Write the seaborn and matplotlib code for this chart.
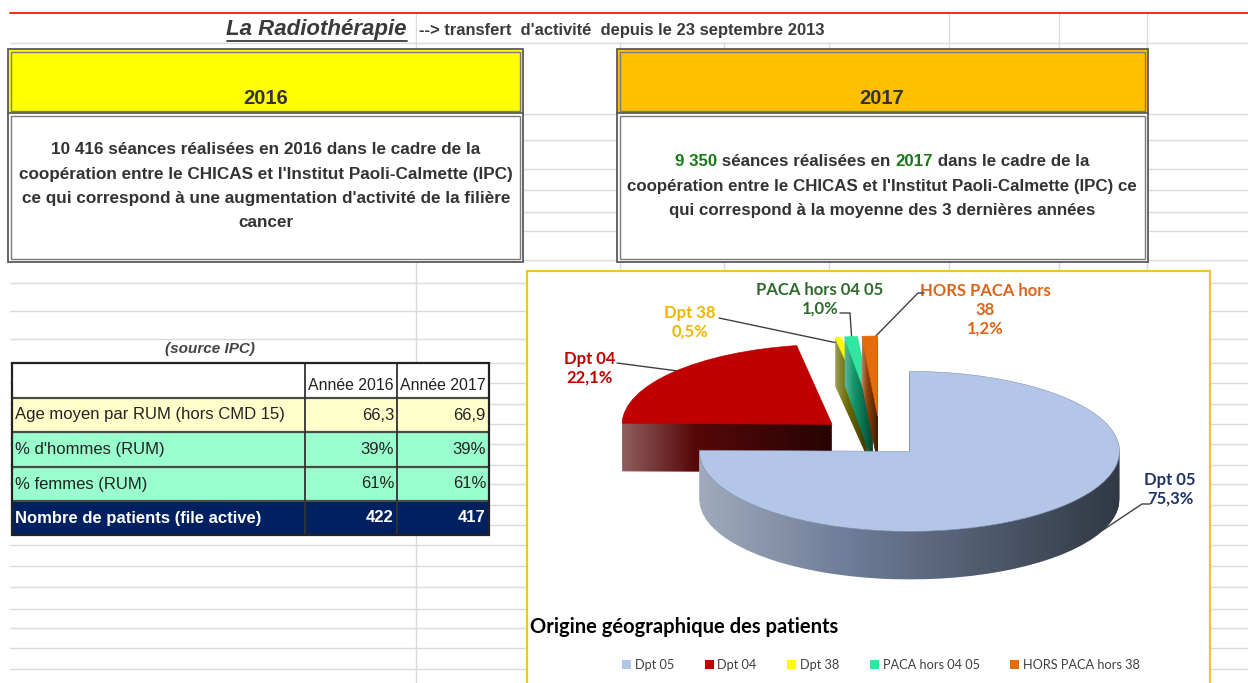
import matplotlib
matplotlib.use("Agg")
import numpy as np
import matplotlib.pyplot as plt
import seaborn as sns
from matplotlib import font_manager
from matplotlib.patches import Rectangle, Patch, PathPatch
from matplotlib.path import Path

# ---- data ----
categories = ["Dpt 05", "Dpt 04", "Dpt 38", "PACA hors 04 05", "HORS PACA hors 38"]
label_names = ["Dpt 05", "Dpt 04", "Dpt 38", "PACA hors 04 05", "HORS PACA hors\n38"]
shares = [75.3, 22.1, 0.5, 1.0, 1.2]

table_rows = ["Age moyen par RUM (hors CMD 15)", "% d'hommes (RUM)",
              "% femmes (RUM)", "Nombre de patients (file active)"]
table_cols = ["Année 2016", "Année 2017"]
values_2016 = ["66,3", "39%", "61%", "422"]
values_2017 = ["66,9", "39%", "61%", "417"]

text_2016 = ["10 416 séances réalisées en 2016 dans le cadre de la",
             "coopération entre le CHICAS et l'Institut Paoli-Calmette (IPC)",
             "ce qui correspond à une augmentation d'activité de la filière",
             "cancer"]
text_2017 = [[("9 350", "green"), (" séances réalisées en ", "grey"), ("2017", "green"),
              (" dans le cadre de la", "grey")],
             [("coopération entre le CHICAS et l'Institut Paoli-Calmette (IPC) ce", "grey")],
             [("qui correspond à la moyenne des 3 dernières années", "grey")]]

# ---- style ----
sns.set_theme(style="white")
fonts = {f.name for f in font_manager.fontManager.ttflist}
plt.rcParams["font.family"] = ["Liberation Sans", "DejaVu Sans"]
narrow = "Liberation Sans Narrow" if "Liberation Sans Narrow" in fonts else "Liberation Sans"
narrow_size = 14 if narrow == "Liberation Sans Narrow" else 12
chart_font = ["Lato", "DejaVu Sans"]

top_colors = ["#B4C6E7", "#C00000", "#FFFF00", "#2EE8A0", "#E46C0A"]
side_colors = ["#6E7D98", "#560808", "#6B6B00", "#12966A", "#8E3F06"]
label_colors = ["#1F3366", "#C00000", "#F2B600", "#2F6B2A", "#DC6418"]
txt_grey = "#333333"
green = "#1A7A1A"
grid = "#DADADA"

W, H = 1248, 683
fig = plt.figure(figsize=(W / 100, H / 100), dpi=100)
ax = fig.add_axes([0, 0, 1, 1])
ax.set_xlim(0, W)
ax.set_ylim(H, 0)
ax.axis("off")
renderer = fig.canvas.get_renderer()

# spreadsheet grid
for y in [43, 114, 140, 169, 190, 212, 231, 260, 283, 311, 339, 363, 383, 404, 424,
          444, 465, 484, 505, 525, 545, 566, 587, 609, 628, 648, 669]:
    ax.plot([10, W], [y, y], color=grid, lw=1, zorder=0)
for x in [416, 620, 724, 829, 949, 1059, 1147]:
    ax.plot([x, x], [14, H], color=grid, lw=1, zorder=0)
ax.plot([10, W], [13, 13], color="#FF0000", lw=1.2, zorder=1)
ax.add_patch(Rectangle((0, 14), 415, 28, facecolor="white", edgecolor="none", zorder=0.5))
ax.add_patch(Rectangle((417, 14), 531, 28, facecolor="white", edgecolor="none", zorder=0.5))

# title
title = ax.text(407, 30, "La Radiothérapie", ha="right", va="center", fontsize=16,
                fontweight="bold", fontstyle="italic", color="#3A3A3A", zorder=3)
bb = title.get_window_extent(renderer)
ax.plot([bb.x0, bb.x1], [41, 41], color="#3A3A3A", lw=1.3, zorder=3)
ax.text(419, 31, "--> transfert  d'activité  depuis le 23 septembre 2013", ha="left",
        va="center", fontsize=11.9, fontweight="bold", color="#3A3A3A", zorder=3)


def box(x0, y0, x1, y1, fc):
    ax.add_patch(Rectangle((x0, y0), x1 - x0, y1 - y0, facecolor=fc,
                           edgecolor="#5A5A5A", lw=1.3, zorder=2))
    ax.add_patch(Rectangle((x0 + 3, y0 + 3), x1 - x0 - 6, y1 - y0 - 6, facecolor="none",
                           edgecolor="#7A7A7A", lw=1.0, zorder=2))


box(8, 49, 523, 114, "#FFFF00")
box(8, 113, 523, 262, "white")
box(617, 49, 1148, 114, "#FFC000")
box(617, 113, 1148, 262, "white")
ax.text(266, 99, "2016", ha="center", va="center", fontsize=14.5, fontweight="bold",
        color=txt_grey, zorder=3)
ax.text(882, 99, "2017", ha="center", va="center", fontsize=14.5, fontweight="bold",
        color=txt_grey, zorder=3)

for i, line in enumerate(text_2016):
    ax.text(266, 150 + 24.3 * i, line, ha="center", va="center", fontsize=12.3,
            fontweight="bold", color=txt_grey, zorder=3)


def width(s, **kw):
    t = ax.text(0, 0, s + "|", **kw)
    r = ax.text(0, 0, "|", **kw)
    w = t.get_window_extent(renderer).width - r.get_window_extent(renderer).width
    t.remove()
    r.remove()
    return w


kw = dict(fontsize=12.2, fontweight="bold")
for i, pieces in enumerate(text_2017):
    full = "".join(p[0] for p in pieces)
    x = 882 - width(full, **kw) / 2
    for s, c in pieces:
        ax.text(x, 162 + 24.5 * i, s, ha="left", va="center", zorder=3,
                color=green if c == "green" else txt_grey, **kw)
        x += width(s, **kw)

# ---- table ----
ax.text(210, 349, "(source IPC)", ha="center", va="center", fontsize=11,
        fontweight="bold", fontstyle="italic", color="#444444", zorder=3)
xs = [12, 305, 397, 489]
ys = [363, 398, 432, 467, 501, 535]
row_fc = ["white", "#FFFFCC", "#99FFCC", "#99FFCC", "#002060"]
for r in range(5):
    ax.add_patch(Rectangle((xs[0], ys[r]), xs[3] - xs[0], ys[r + 1] - ys[r],
                           facecolor=row_fc[r], edgecolor="none", zorder=2))
for y in ys[1:-1]:
    ax.plot([xs[0], xs[3]], [y, y], color="#4A4A4A", lw=1.6, zorder=3)
for x in xs[1:3]:
    ax.plot([x, x], [ys[0], ys[-1]], color="#333333", lw=1.3, zorder=3)
ax.add_patch(Rectangle((xs[0], ys[0]), xs[3] - xs[0], ys[-1] - ys[0], facecolor="none",
                       edgecolor="#222222", lw=1.6, zorder=4))
tkw = dict(family=narrow, zorder=5)
for c, head in enumerate(table_cols):
    ax.text((xs[c + 1] + xs[c + 2]) / 2, 385, head, ha="center", va="center",
            color="#222222", fontsize=narrow_size - 0.6, **tkw)
for r, lab in enumerate(table_rows):
    yc = (ys[r + 1] + ys[r + 2]) / 2
    col = "white" if r == 3 else "#222222"
    fw = "bold" if r == 3 else "normal"
    ax.text(xs[0] + 3, yc, lab, ha="left", va="center", color=col, fontweight=fw,
            fontsize=narrow_size, **tkw)
    ax.text(xs[2] - 3, yc, values_2016[r], ha="right", va="center", color=col,
            fontweight=fw, fontsize=narrow_size, **tkw)
    ax.text(xs[3] - 3, yc, values_2017[r], ha="right", va="center", color=col,
            fontweight=fw, fontsize=narrow_size, **tkw)

# ---- chart frame ----
ax.add_patch(Rectangle((527, 271), 683, 430, facecolor="white", edgecolor="#F2C12E",
                       lw=1.6, zorder=2))
ax.text(530, 627, "Origine géographique des patients", ha="left", va="center",
        fontsize=14.5, fontweight="bold", family=chart_font, color="black", zorder=3)

# ---- 3D-ish pie ----
pax = fig.add_axes([527 / W, 1 - 600 / H, 706 / W, 320 / H])
n_layers = 28
depth = 0.6
explode = [0.2, 0.3, 0.3, 0.3, 0.3]
rank = [4, 0, 1, 2, 3]  # back to front drawing order
side_paths = [[] for _ in shares]
for k in range(n_layers, 0, -1):
    wedges, _ = pax.pie(shares, colors=side_colors, startangle=90, counterclock=False,
                        explode=explode, center=(0, -depth * k / n_layers),
                        wedgeprops=dict(linewidth=0), normalize=True)
    for i, w in enumerate(wedges):
        w.set_zorder(rank[i] * 100 + (n_layers - k))
        side_paths[i].append(w.get_path())
top, _ = pax.pie(shares, colors=top_colors, startangle=90, counterclock=False,
                 explode=explode, wedgeprops=dict(linewidth=0.4, edgecolor="#8090B0"),
                 normalize=True)
for i, w in enumerate(top):
    w.set_zorder(rank[i] * 100 + 60)
    if i != 0:
        w.set_edgecolor(top_colors[i])

# horizontal shading on the sides
shade = np.zeros((1, 256, 4))
t = np.linspace(0, 1, 256)
shade[0, :, :3] = np.where(t[:, None] < 0.35, 1.0, 0.0)
shade[0, :, 3] = np.where(t < 0.35, 0.35 * (0.35 - t) / 0.35, 0.55 * (t - 0.35) / 0.65)
for i, paths in enumerate(side_paths):
    comp = Path.make_compound_path(*paths)
    pp = PathPatch(comp, facecolor="none", edgecolor="none", transform=pax.transData)
    pax.add_patch(pp)
    ext = comp.get_extents()
    im = pax.imshow(shade, extent=(ext.x0, ext.x1, ext.y0, ext.y1), aspect="auto",
                    zorder=rank[i] * 100 + 50, interpolation="bilinear")
    im.set_clip_path(pp)
pax.set_aspect("auto")
pax.set_xlim(-706 / 2 / 210, 706 / 2 / 210)
pax.set_ylim(-2, 2)
pax.axis("off")

# data labels
label_pos = [(1170, 489), (590, 368), (690, 322), (820, 299), (985, 310)]
leaders = [[(1150, 504), (1142, 504), (1100, 532)],
           [(617, 363), (693, 373)],
           [(719, 318), (842, 344)],
           [(840, 313), (850, 313), (852, 343)],
           [(924, 293), (918, 293), (867, 345)]]
for i, name in enumerate(label_names):
    pct = f"{shares[i]:.1f}".replace(".", ",") + "%"
    ax.text(*label_pos[i], f"{name}\n{pct}", ha="center", va="center", fontsize=12,
            fontweight="bold", family=chart_font, color=label_colors[i],
            linespacing=1.2, zorder=3)
    pts = np.array(leaders[i])
    ax.plot(pts[:, 0], pts[:, 1], color="#404040", lw=1, zorder=3)

handles = [Patch(facecolor=c, edgecolor="none") for c in top_colors]
fig.legend(handles, categories, loc="center", bbox_to_anchor=(881 / W, 1 - 665 / H),
           ncol=5, frameon=False, handlelength=0.7, handleheight=0.7, handletextpad=0.3,
           columnspacing=2.4, prop=dict(family=chart_font, size=9.2),
           labelcolor="#404040")

fig.savefig("out.png", dpi=100)
